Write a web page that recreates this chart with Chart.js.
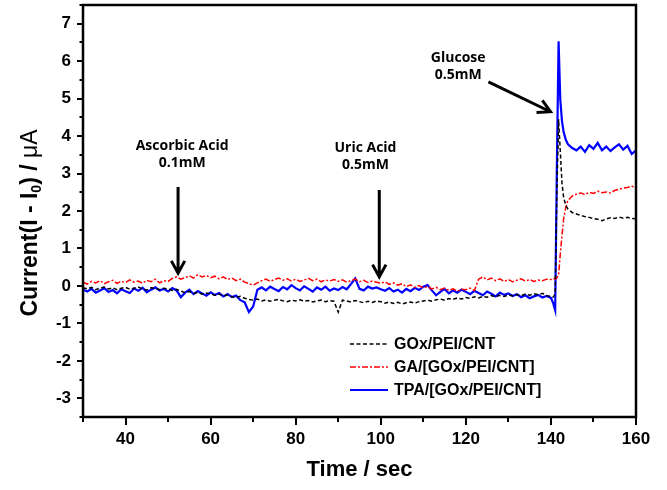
<!DOCTYPE html>
<html>
<head>
<meta charset="utf-8">
<script src="https://cdn.jsdelivr.net/npm/chart.js@4"></script>
<style>
html, body { margin: 0; padding: 0; background: #fff; }
#wrap { width: 667px; height: 490px; }
</style>
</head>
<body>
<div id="wrap"><canvas id="chart"></canvas></div>
<script>
// time axis (sec)
const time = [
  30, 31, 32, 33, 34, 35, 36, 37, 38, 39,
  40, 41, 42, 43, 44, 45, 46, 47, 48, 49,
  50, 51, 52, 53, 54, 55, 56, 57, 58, 59,
  60, 61, 62, 63, 64, 65, 66, 67, 68, 69,
  70, 71, 72, 73, 74, 75, 76, 77, 78, 79,
  80, 81, 82, 83, 84, 85, 86, 87, 88, 89,
  90, 91, 92, 93, 94, 95, 96, 97, 98, 99,
  100, 101, 102, 103, 104, 105, 106, 107, 108, 109,
  110, 111, 112, 113, 114, 115, 116, 117, 118, 119,
  120, 121, 122, 123, 124, 125, 126, 127, 128, 129,
  130, 131, 132, 133, 134, 135, 136, 137, 138, 139,
  140, 140.5, 141, 141.4, 141.8, 142.2, 142.6, 143, 143.5, 144,
  145, 146, 147, 148, 149, 150, 151, 152, 153, 154, 155, 156, 157, 158, 159, 160
];

// GOx/PEI/CNT
const goxPeiCnt = [
  -0.05, -0.08, -0.04, -0.10, -0.06, -0.03, -0.08, -0.05, -0.10, -0.06,
  -0.04, -0.09, -0.06, -0.03, -0.08, -0.11, -0.05, -0.07, -0.10, -0.06,
  -0.08, -0.12, -0.09, -0.14, -0.18, -0.15, -0.20, -0.17, -0.22, -0.19,
  -0.21, -0.25, -0.22, -0.27, -0.24, -0.29, -0.31, -0.28, -0.33, -0.36,
  -0.38, -0.35, -0.40, -0.37, -0.41, -0.38, -0.36, -0.40, -0.42, -0.38,
  -0.40, -0.37, -0.41, -0.39, -0.43, -0.40, -0.38, -0.42, -0.39, -0.41,
  -0.70, -0.38, -0.40, -0.43, -0.39, -0.42, -0.45, -0.41, -0.44, -0.40,
  -0.42, -0.46, -0.43, -0.47, -0.44, -0.48, -0.45, -0.43, -0.46, -0.42,
  -0.40, -0.38, -0.41, -0.37, -0.35, -0.38, -0.34, -0.36, -0.32, -0.35,
  -0.31, -0.33, -0.29, -0.32, -0.28, -0.30, -0.26, -0.29, -0.25, -0.28,
  -0.24, -0.27, -0.23, -0.26, -0.22, -0.25, -0.21, -0.24, -0.20, -0.26,
  -0.28, -0.30, -0.22, 2.5, 4.45, 3.6, 2.75, 2.35, 2.15, 2.05,
  1.96, 1.92, 1.88, 1.85, 1.83, 1.80, 1.78, 1.74, 1.79, 1.82, 1.80, 1.84, 1.81, 1.83, 1.80, 1.79
];

// GA/[GOx/PEI/CNT]
const gaGox = [
  0.10, 0.05, 0.12, 0.08, 0.14, 0.06, 0.11, 0.15, 0.07, 0.12,
  0.09, 0.16, 0.10, 0.13, 0.07, 0.15, 0.11, 0.18, 0.08, 0.14,
  0.12, 0.20, 0.24, 0.18, 0.22, 0.27, 0.21, 0.30, 0.24, 0.28,
  0.22, 0.26, 0.19, 0.24, 0.17, 0.21, 0.14, 0.18, 0.10, 0.06,
  0.02, 0.08, 0.14, 0.18, 0.12, 0.17, 0.21, 0.15, 0.19, 0.13,
  0.18, 0.12, 0.16, 0.20, 0.14, 0.18, 0.11, 0.16, 0.13, 0.17,
  0.12, 0.16, 0.10, 0.14, 0.18, 0.11, 0.15, 0.09, 0.13, 0.10,
  0.07, 0.11, 0.04, 0.08, 0.02, 0.06, -0.02, 0.03, -0.04, 0.01,
  -0.05, -0.02, -0.08, -0.04, -0.10, -0.06, -0.12, -0.08, -0.14, -0.09,
  -0.10, -0.06, -0.12, 0.18, 0.24, 0.16, 0.21, 0.14, 0.19, 0.12,
  0.17, 0.11, 0.15, 0.19, 0.13, 0.17, 0.12, 0.16, 0.14, 0.18,
  0.17, 0.20, 0.18, 0.22, 0.28, 0.85, 1.35, 1.8, 2.1, 2.28,
  2.40, 2.45, 2.48, 2.44, 2.50, 2.47, 2.53, 2.49, 2.51, 2.48, 2.55, 2.58, 2.61, 2.63, 2.66, 2.63
];

// TPA/[GOx/PEI/CNT]
const tpaGox = [
  -0.10, -0.15, -0.08, -0.18, -0.12, -0.06, -0.16, -0.11, -0.20, -0.09,
  -0.14, -0.19, -0.07, -0.13, -0.05, -0.17, -0.10, -0.04, -0.12, -0.08,
  -0.15, -0.06, -0.12, -0.30, -0.18, -0.10, -0.22, -0.14, -0.20, -0.26,
  -0.17, -0.24, -0.19, -0.28, -0.22, -0.30, -0.26, -0.38, -0.44, -0.70,
  -0.55, -0.10, -0.04, -0.12, -0.02, -0.08, -0.14, -0.03, -0.09, 0.02,
  -0.06, -0.12, -0.01, -0.08, -0.15, -0.04, -0.10, -0.02, -0.13, -0.07,
  -0.11, -0.03, -0.09, 0.05, 0.20, -0.08, -0.12, -0.02, -0.07, -0.04,
  -0.09, -0.13, -0.06, -0.15, -0.10, -0.18, -0.08, -0.14, -0.05, -0.11,
  -0.02, 0.02, -0.12, -0.25, -0.16, -0.08, -0.20, -0.12, -0.18, -0.10,
  -0.16, -0.22, -0.13, -0.19, -0.25, -0.15, -0.21, -0.28, -0.18, -0.24,
  -0.20, -0.27, -0.22, -0.30, -0.25, -0.33, -0.28, -0.24, -0.31, -0.27,
  -0.32, -0.45, -0.65, 3.2, 6.53, 4.97, 4.4, 4.1, 3.9, 3.78,
  3.68, 3.62, 3.72, 3.58, 3.76, 3.66, 3.82, 3.62, 3.72, 3.60, 3.70, 3.78, 3.64, 3.74, 3.52, 3.62
];

const seriesLabels = ['GOx/PEI/CNT', 'GA/[GOx/PEI/CNT]', 'TPA/[GOx/PEI/CNT]'];
const xTickLabels = [40, 60, 80, 100, 120, 140, 160];
const yTickLabels = [-3, -2, -1, 0, 1, 2, 3, 4, 5, 6, 7];

// arrow notes, in data units
const notes = [
  { text: ['Ascorbic Acid', '0.1mM'], tx: 53.3, ty: [3.74, 3.28], from: [52.35, 2.64], to: [52.35, 0.34] },
  { text: ['Uric Acid', '0.5mM'], tx: 96.4, ty: [3.68, 3.23], from: [99.65, 2.56], to: [99.65, 0.24] },
  { text: ['Glucose', '0.5mM'], tx: 118.2, ty: [6.09, 5.64], from: [125.3, 5.45], to: [139.9, 4.65] }
];

const AXIS_FONT = "'Liberation Sans', Arial, sans-serif";

const toXY = arr => time.map((t, i) => ({ x: t, y: arr[i] }));

const framePlugin = {
  id: 'frame',
  afterDraw(chart) {
    const { ctx, chartArea: a, scales: { x, y } } = chart;
    ctx.save();
    ctx.strokeStyle = '#000';
    ctx.lineWidth = 2.5;
    ctx.strokeRect(a.left, a.top, a.right - a.left, a.bottom - a.top);
    ctx.lineWidth = 2;
    ctx.beginPath();
    for (let v = x.min; v <= x.max + 1e-6; v += 10) {
      const px = Math.round(x.getPixelForValue(v));
      const len = v % 20 === 0 ? 8 : 5;
      ctx.moveTo(px, a.bottom);
      ctx.lineTo(px, a.bottom + len);
    }
    for (let v = y.min; v <= y.max + 1e-6; v += 0.5) {
      const py = Math.round(y.getPixelForValue(v));
      const len = Number.isInteger(v) ? 6 : 3.5;
      ctx.moveTo(a.left, py);
      ctx.lineTo(a.left - len, py);
    }
    ctx.stroke();

    // y axis title with subscript
    ctx.translate(31, (a.top + a.bottom) / 2 + 12);
    ctx.rotate(-Math.PI / 2);
    ctx.fillStyle = '#000';
    ctx.textBaseline = 'middle';
    const big = 'bold 23px ' + AXIS_FONT;
    const small = 'bold 14px ' + AXIS_FONT;
    const parts = [['Current(I - I', big, 0], ['0', small, 6], [') / ', big, 0], ['\u03bcA', '23px ' + AXIS_FONT, 0]];
    let total = 0;
    parts.forEach(p => { ctx.font = p[1]; total += ctx.measureText(p[0]).width; });
    let cx = -total / 2;
    parts.forEach(p => {
      ctx.font = p[1];
      ctx.fillText(p[0], cx, p[2]);
      cx += ctx.measureText(p[0]).width;
    });
    ctx.restore();
  }
};

const notesPlugin = {
  id: 'notes',
  afterDatasetsDraw(chart) {
    const { ctx, scales: { x, y } } = chart;
    ctx.save();
    ctx.fillStyle = '#000';
    ctx.strokeStyle = '#000';
    ctx.textAlign = 'center';
    ctx.textBaseline = 'middle';
    ctx.font = "bold 14px 'Open Sans', sans-serif";
    notes.forEach(n => {
      n.text.forEach((line, i) => ctx.fillText(line, x.getPixelForValue(n.tx), y.getPixelForValue(n.ty[i])));
      const x1 = x.getPixelForValue(n.from[0]), y1 = y.getPixelForValue(n.from[1]);
      const x2 = x.getPixelForValue(n.to[0]), y2 = y.getPixelForValue(n.to[1]);
      const ang = Math.atan2(y2 - y1, x2 - x1);
      ctx.lineWidth = 3;
      ctx.beginPath();
      ctx.moveTo(x1, y1);
      ctx.lineTo(x2, y2);
      ctx.moveTo(x2 - 14 * Math.cos(ang - 0.5), y2 - 14 * Math.sin(ang - 0.5));
      ctx.lineTo(x2, y2);
      ctx.lineTo(x2 - 14 * Math.cos(ang + 0.5), y2 - 14 * Math.sin(ang + 0.5));
      ctx.stroke();
    });

    // legend box
    const a = chart.chartArea;
    ctx.textAlign = 'left';
    ctx.font = 'bold 16px ' + AXIS_FONT;
    chart.data.datasets.forEach((ds, i) => {
      const ly = a.bottom - 73 + i * 23;
      ctx.strokeStyle = ds.borderColor;
      ctx.lineWidth = ds.borderWidth;
      ctx.setLineDash(ds.borderDash || []);
      ctx.beginPath();
      ctx.moveTo(a.right - 286, ly);
      ctx.lineTo(a.right - 248, ly);
      ctx.stroke();
      ctx.setLineDash([]);
      ctx.fillText(ds.label, a.right - 242, ly + 1);
    });
    ctx.restore();
  }
};

new Chart(document.getElementById('chart'), {
  type: 'line',
  data: {
    datasets: [
      { label: seriesLabels[0], data: toXY(goxPeiCnt), borderColor: '#000000', borderWidth: 1.5, borderDash: [4, 2.5] },
      { label: seriesLabels[1], data: toXY(gaGox), borderColor: '#ff0000', borderWidth: 1.5, borderDash: [6, 2, 2, 2] },
      { label: seriesLabels[2], data: toXY(tpaGox), borderColor: '#0000ff', borderWidth: 2.2 }
    ]
  },
  options: {
    responsive: true,
    maintainAspectRatio: false,
    animation: false,
    layout: { padding: { left: 0, top: 5, right: 31, bottom: 0 } },
    elements: { point: { radius: 0 }, line: { tension: 0 } },
    scales: {
      x: {
        type: 'linear',
        min: 30,
        max: 160,
        grid: { display: false, drawTicks: false },
        border: { display: false },
        afterBuildTicks: s => { s.ticks = xTickLabels.map(v => ({ value: v })); },
        ticks: {
          maxRotation: 0,
          autoSkip: false,
          padding: 12,
          color: '#000',
          font: { family: AXIS_FONT, size: 17, weight: 'bold' }
        },
        title: {
          display: true,
          text: 'Time / sec',
          color: '#000',
          padding: { top: 0, bottom: 7 },
          font: { family: AXIS_FONT, size: 22, weight: 'bold' }
        },
        afterFit: s => { s.height = 73; s.paddingLeft = 0; s.paddingRight = 0; }
      },
      y: {
        type: 'linear',
        min: -3.5,
        max: 7.5,
        grid: { display: false, drawTicks: false },
        border: { display: false },
        afterBuildTicks: s => { s.ticks = yTickLabels.map(v => ({ value: v })); },
        ticks: {
          autoSkip: false,
          padding: 12,
          color: '#000',
          font: { family: AXIS_FONT, size: 17, weight: 'bold' }
        },
        afterFit: s => { s.width = 83; s.paddingTop = 0; s.paddingBottom = 0; }
      }
    },
    plugins: {
      legend: { display: false },
      tooltip: { enabled: false }
    }
  },
  plugins: [framePlugin, notesPlugin]
});
</script>
</body>
</html>
